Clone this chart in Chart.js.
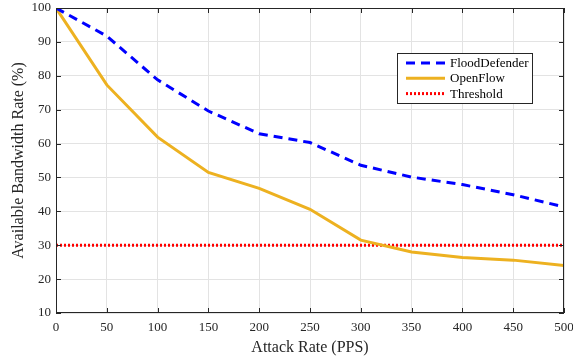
<!DOCTYPE html>
<html>
<head>
<meta charset="utf-8">
<script src="https://cdn.jsdelivr.net/npm/chart.js@4.4.0/dist/chart.umd.min.js"></script>
<style>
  html, body { margin: 0; padding: 0; background: #fff; }
  #wrap { width: 573px; height: 358px; position: relative; }
</style>
</head>
<body>
<div id="wrap"><canvas id="bwChart" width="573" height="358"></canvas></div>
<script>
// ==================== DATA ====================
const attackRates = [0, 50, 100, 150, 200, 250, 300, 350, 400, 450, 500];
const floodDefender = [100, 91.7, 78.8, 69.6, 62.9, 60.3, 53.6, 50.1, 47.9, 44.9, 41.3];
const openFlow = [100, 77.3, 61.9, 51.5, 46.8, 40.6, 31.5, 28.0, 26.4, 25.6, 24.0];
const threshold = [30, 30, 30, 30, 30, 30, 30, 30, 30, 30, 30];
const xTicks = [0, 50, 100, 150, 200, 250, 300, 350, 400, 450, 500];
const yTicks = [10, 20, 30, 40, 50, 60, 70, 80, 90, 100];

const AXIS_COLOR = '#262626';
const SERIF = '"Liberation Serif", "DejaVu Serif", serif';

// ==================== PLUGINS ====================
// box + inward ticks, MATLAB style
const boxPlugin = {
    id: 'boxPlugin',
    afterDatasetsDraw(chart) {
        const { ctx, chartArea: a, scales } = chart;
        ctx.save();
        ctx.strokeStyle = AXIS_COLOR;
        ctx.lineWidth = 1;
        ctx.strokeRect(a.left + 0.5, a.top + 0.5, a.right - a.left - 1, a.bottom - a.top - 1);
        const len = 5;
        ctx.beginPath();
        xTicks.forEach(v => {
            const x = Math.round(scales.x.getPixelForValue(v)) + 0.5;
            ctx.moveTo(x, a.bottom); ctx.lineTo(x, a.bottom - len);
            ctx.moveTo(x, a.top); ctx.lineTo(x, a.top + len);
        });
        yTicks.forEach(v => {
            const y = Math.round(scales.y.getPixelForValue(v)) + 0.5;
            ctx.moveTo(a.left, y); ctx.lineTo(a.left + len, y);
            ctx.moveTo(a.right, y); ctx.lineTo(a.right - len, y);
        });
        ctx.stroke();
        ctx.restore();
    }
};

// legend box inside plot, top right
const legendBoxPlugin = {
    id: 'legendBoxPlugin',
    afterDraw(chart) {
        const { ctx } = chart;
        const bx = 397, by = 53, bw = 136, bh = 51;
        ctx.save();
        ctx.fillStyle = '#fff';
        ctx.fillRect(bx, by, bw, bh);
        ctx.strokeStyle = AXIS_COLOR;
        ctx.lineWidth = 1;
        ctx.strokeRect(bx + 0.5, by + 0.5, bw - 1, bh - 1);
        ctx.font = '13px ' + SERIF;
        ctx.textBaseline = 'middle';
        ctx.fillStyle = '#000';
        chart.data.datasets.forEach((ds, i) => {
            const y = by + 10 + i * 15.3;
            ctx.beginPath();
            ctx.strokeStyle = ds.borderColor;
            ctx.lineWidth = ds.borderWidth;
            ctx.setLineDash(ds.borderDash || []);
            ctx.moveTo(bx + 9, y);
            ctx.lineTo(bx + 48, y);
            ctx.stroke();
            ctx.setLineDash([]);
            ctx.fillText(ds.label, bx + 53, y + 0.5);
        });
        ctx.restore();
    }
};

// ==================== CHART ====================
const chart = new Chart(document.getElementById('bwChart'), {
    type: 'line',
    data: {
        labels: attackRates,
        datasets: [
            {
                label: 'FloodDefender',
                data: attackRates.map((x, i) => ({ x, y: floodDefender[i] })),
                borderColor: '#0000ff',
                borderWidth: 3,
                borderDash: [9, 6],
                pointRadius: 0,
                tension: 0
            },
            {
                label: 'OpenFlow',
                data: attackRates.map((x, i) => ({ x, y: openFlow[i] })),
                borderColor: '#edb120',
                borderWidth: 3,
                pointRadius: 0,
                tension: 0
            },
            {
                label: 'Threshold',
                data: attackRates.map((x, i) => ({ x, y: threshold[i] })),
                borderColor: '#ff0000',
                borderWidth: 3,
                borderDash: [2, 2],
                pointRadius: 0,
                tension: 0
            }
        ]
    },
    options: {
        responsive: false,
        animation: false,
        layout: { padding: { top: 8, right: 9, left: 0, bottom: 0 } },
        plugins: {
            legend: { display: false },
            tooltip: { enabled: false }
        },
        scales: {
            x: {
                type: 'linear',
                min: 0, max: 500,
                afterBuildTicks: s => { s.ticks = xTicks.map(v => ({ value: v })); },
                afterFit: s => { s.height = 45; s.paddingLeft = 0; s.paddingRight = 0; },
                grid: { color: '#e3e3e3', drawTicks: false },
                border: { display: false },
                ticks: { color: AXIS_COLOR, padding: 7, maxRotation: 0, font: { family: SERIF, size: 13 } },
                title: {
                    display: true, text: 'Attack Rate (PPS)', color: AXIS_COLOR,
                    font: { family: SERIF, size: 16 }, padding: { top: 3, bottom: 1 }
                }
            },
            y: {
                min: 10, max: 100,
                afterBuildTicks: s => { s.ticks = yTicks.map(v => ({ value: v })); },
                afterFit: s => { s.width = 56; s.paddingTop = 0; s.paddingBottom = 0; },
                grid: { color: '#e3e3e3', drawTicks: false },
                border: { display: false },
                ticks: { color: AXIS_COLOR, padding: 5, font: { family: SERIF, size: 13 } },
                title: {
                    display: true, text: 'Available Bandwidth Rate (%)', color: AXIS_COLOR,
                    font: { family: SERIF, size: 16 }, padding: { top: 9, bottom: 0 }
                }
            }
        }
    },
    plugins: [boxPlugin, legendBoxPlugin]
});
</script>
</body>
</html>
